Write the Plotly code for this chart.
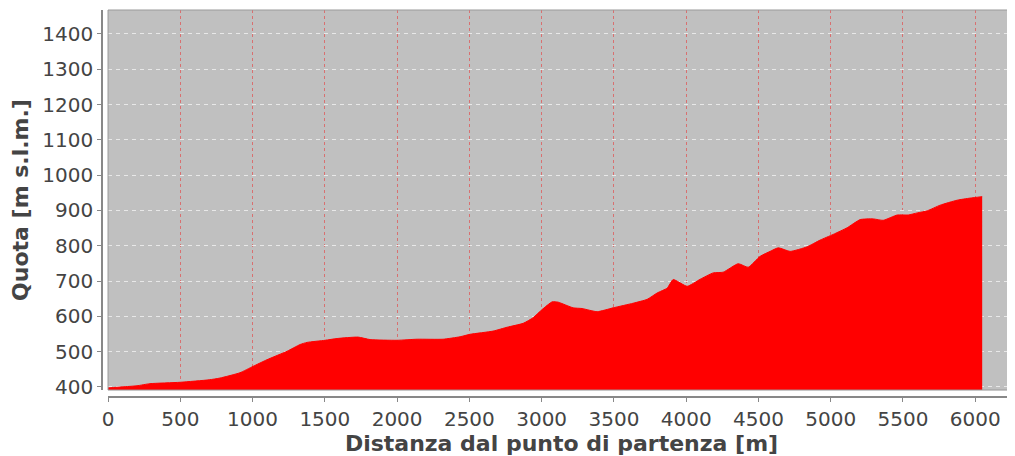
import plotly.graph_objects as go

distanza = [0, 100, 200, 290, 500, 700, 775, 913, 1003, 1100, 1239, 1329, 1377, 1502,
            1585, 1730, 1813, 2000, 2138, 2318, 2436, 2505, 2664, 2761, 2872, 2941,
            3003, 3073, 3114, 3218, 3280, 3384, 3495, 3633, 3730, 3799, 3869, 3910,
            4007, 4097, 4187, 4256, 4360, 4429, 4512, 4581, 4637, 4720, 4837, 4927,
            5017, 5114, 5204, 5294, 5363, 5460, 5536, 5599, 5668, 5758, 5875, 5965, 6048]
quota = [397, 400, 403, 409, 413, 420, 425, 440, 458, 477, 501, 520, 526, 532,
         537, 541, 534, 532, 535, 535, 542, 549, 558, 569, 580, 596,
         619, 641, 640, 624, 622, 613, 624, 637, 648, 666, 680, 704,
         685, 705, 723, 725, 749, 739, 770, 784, 794, 784, 797, 816,
         832, 851, 874, 876, 872, 887, 887, 893, 899, 915, 929, 935, 939]

x_ticks = list(range(0, 6001, 500))
y_ticks = list(range(400, 1401, 100))

fig = go.Figure()
fig.add_trace(go.Scatter(
    x=distanza, y=quota, mode="lines",
    line=dict(color="#ff0000", width=1, shape="spline", smoothing=0.5),
    fill="tozeroy", fillcolor="#ff0000", hoverinfo="skip", showlegend=False))

tick_font = dict(family="DejaVu Sans", size=20, color="#444444")
title_font = dict(family="DejaVu Sans", size=22, color="#444444")

# page body adds an 8px offset, so the figure is sized to end at the window edge
fig.update_layout(
    width=1007, height=448,
    margin=dict(l=94, r=0, t=2, b=59),
    paper_bgcolor="white", plot_bgcolor="#c0c0c0",
    xaxis=dict(
        domain=[0.0066, 1], anchor="free", position=0, automargin=False,
        range=[0, 6275], tickvals=x_ticks, ticktext=[str(v) for v in x_ticks],
        showgrid=True, gridcolor="#d87070", griddash="3px,3px", gridwidth=1,
        zeroline=False, showline=True, linecolor="#888888", linewidth=1.5,
        ticks="outside", ticklen=4, tickcolor="#888888",
        tickfont=tick_font,
        title=dict(text="<b>Distanza dal punto di partenza [m]</b>", font=title_font, standoff=6),
    ),
    yaxis=dict(
        domain=[0.018, 1], anchor="free", position=0, automargin=False,
        range=[391, 1468], tickvals=y_ticks, ticktext=[str(v) for v in y_ticks],
        showgrid=True, gridcolor="#e8e8e8", griddash="4px,4px", gridwidth=1,
        zeroline=False, showline=True, linecolor="#888888", linewidth=1.5,
        ticks="outside", ticklen=4, tickcolor="#888888",
        tickfont=tick_font,
        title=dict(text="<b>Quota [m s.l.m.]</b>", font=title_font, standoff=8),
    ),
)
fig.add_shape(type="rect", xref="x domain", yref="y domain", x0=0, x1=1, y0=0, y1=1,
              line=dict(color="#999999", width=1), layer="above")

fig.write_html("out.html")
